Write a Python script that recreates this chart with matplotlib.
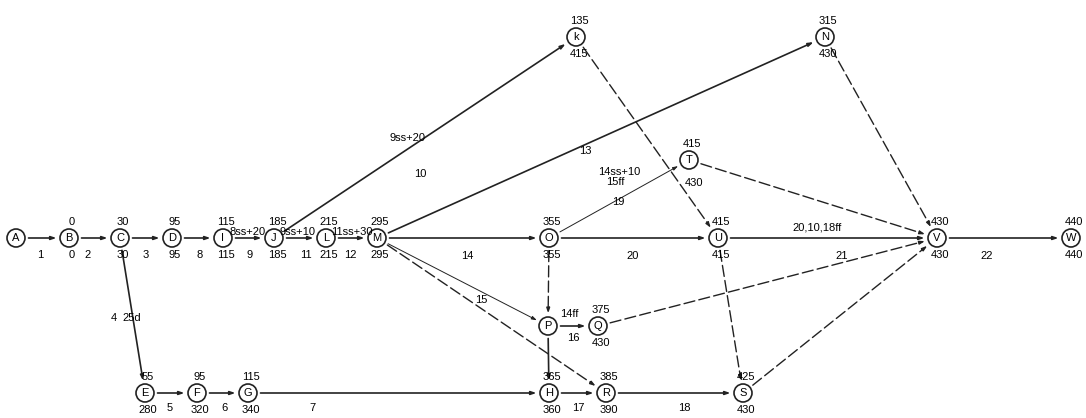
import matplotlib.pyplot as plt
from matplotlib.patches import Circle

# node name -> (x, y) in picture pixels
nodes = {
    'A': (16, 238), 'B': (69, 238), 'C': (120, 238), 'D': (172, 238),
    'I': (223, 238), 'J': (274, 238), 'L': (326, 238), 'M': (377, 238),
    'O': (549, 238), 'U': (718, 238), 'V': (937, 238), 'W': (1071, 238),
    'k': (576, 37), 'N': (825, 37), 'T': (689, 160), 'P': (548, 326),
    'Q': (598, 326), 'E': (145, 393), 'F': (197, 393), 'G': (248, 393),
    'H': (549, 393), 'R': (606, 393), 'S': (743, 393),
}
# node -> (top number, bottom number)
times = {
    'B': ('0', '0'), 'C': ('30', '30'), 'D': ('95', '95'), 'I': ('115', '115'),
    'J': ('185', '185'), 'L': ('215', '215'), 'M': ('295', '295'),
    'O': ('355', '355'), 'U': ('415', '415'), 'V': ('430', '430'),
    'W': ('440', '440'), 'k': ('135', '415'), 'N': ('315', '430'),
    'T': ('415', ''), 'Q': ('375', '430'), 'E': ('55', '280'),
    'F': ('95', '320'), 'G': ('115', '340'), 'H': ('365', '360'),
    'R': ('385', '390'), 'S': ('425', '430'),
}
solid = [('A', 'B'), ('B', 'C'), ('C', 'D'), ('D', 'I'), ('I', 'J'), ('J', 'L'),
         ('L', 'M'), ('M', 'O'), ('O', 'U'), ('U', 'V'), ('V', 'W'), ('C', 'E'),
         ('E', 'F'), ('F', 'G'), ('G', 'H'), ('H', 'R'), ('R', 'S'), ('J', 'k'),
         ('M', 'N'), ('P', 'Q'), ('P', 'H')]
thin = [('O', 'T'), ('M', 'P')]
dashed = [('k', 'U'), ('N', 'V'), ('T', 'V'), ('Q', 'V'), ('S', 'V'),
          ('M', 'R'), ('U', 'S'), ('O', 'P')]
# edge label text and its position
edge_labels = [
    ('1', 40, 255), ('2', 88, 255), ('3', 146, 255), ('8', 200, 255),
    ('9', 250, 255), ('11', 306, 255), ('12', 350, 255), ('14', 467, 256),
    ('20', 633, 256), ('21', 842, 256), ('22', 987, 256),
    ('8ss+20', 248, 232), ('9ss+10', 298, 232), ('11ss+30', 352, 232),
    ('9ss+20', 408, 138), ('10', 420, 174), ('13', 585, 151),
    ('14ss+10', 619, 172), ('15ff', 615, 182), ('19', 618, 202),
    ('430', 694, 183), ('20,10,18ff', 817, 227), ('15', 481, 300),
    ('14ff', 569, 314), ('16', 573, 338), ('4', 114, 318), ('25d', 132, 318),
    ('5', 170, 408), ('6', 224, 408), ('7', 312, 408), ('17', 578, 408),
    ('18', 684, 408),
]

fig = plt.figure(figsize=(10.86, 4.18), dpi=100)
ax = fig.add_axes([0, 0, 1, 1])
ax.set_xlim(0, 1086)
ax.set_ylim(418, 0)
ax.axis('off')

r = 9

def draw_edge(a, b, ls, lw):
    (x1, y1), (x2, y2) = nodes[a], nodes[b]
    ax.annotate('', xy=(x2, y2), xytext=(x1, y1),
                arrowprops=dict(arrowstyle='-|>,head_length=0.3,head_width=0.1',
                                color='#222222', lw=lw, linestyle=ls,
                                shrinkA=r, shrinkB=r))

for a, b in solid:
    draw_edge(a, b, '-', 1.2)
for a, b in thin:
    draw_edge(a, b, '-', 0.7)
for a, b in dashed:
    draw_edge(a, b, (0, (8, 3)), 1.0)

for name, (x, y) in nodes.items():
    ax.add_patch(Circle((x, y), r, fc='white', ec='#222222', lw=1.2, zorder=3))
    ax.text(x, y, name, ha='center', va='center', fontsize=8, zorder=4,
            family='Liberation Sans')

for name, (top, bot) in times.items():
    x, y = nodes[name]
    ax.text(x + 3, y - 16, top, ha='center', va='center', fontsize=8,
            family='Liberation Sans')
    ax.text(x + 3, y + 17, bot, ha='center', va='center', fontsize=8,
            family='Liberation Sans')

for txt, x, y in edge_labels:
    ax.text(x, y, txt, ha='center', va='center', fontsize=8,
            family='Liberation Sans')

fig.savefig('out.png', dpi=100)
